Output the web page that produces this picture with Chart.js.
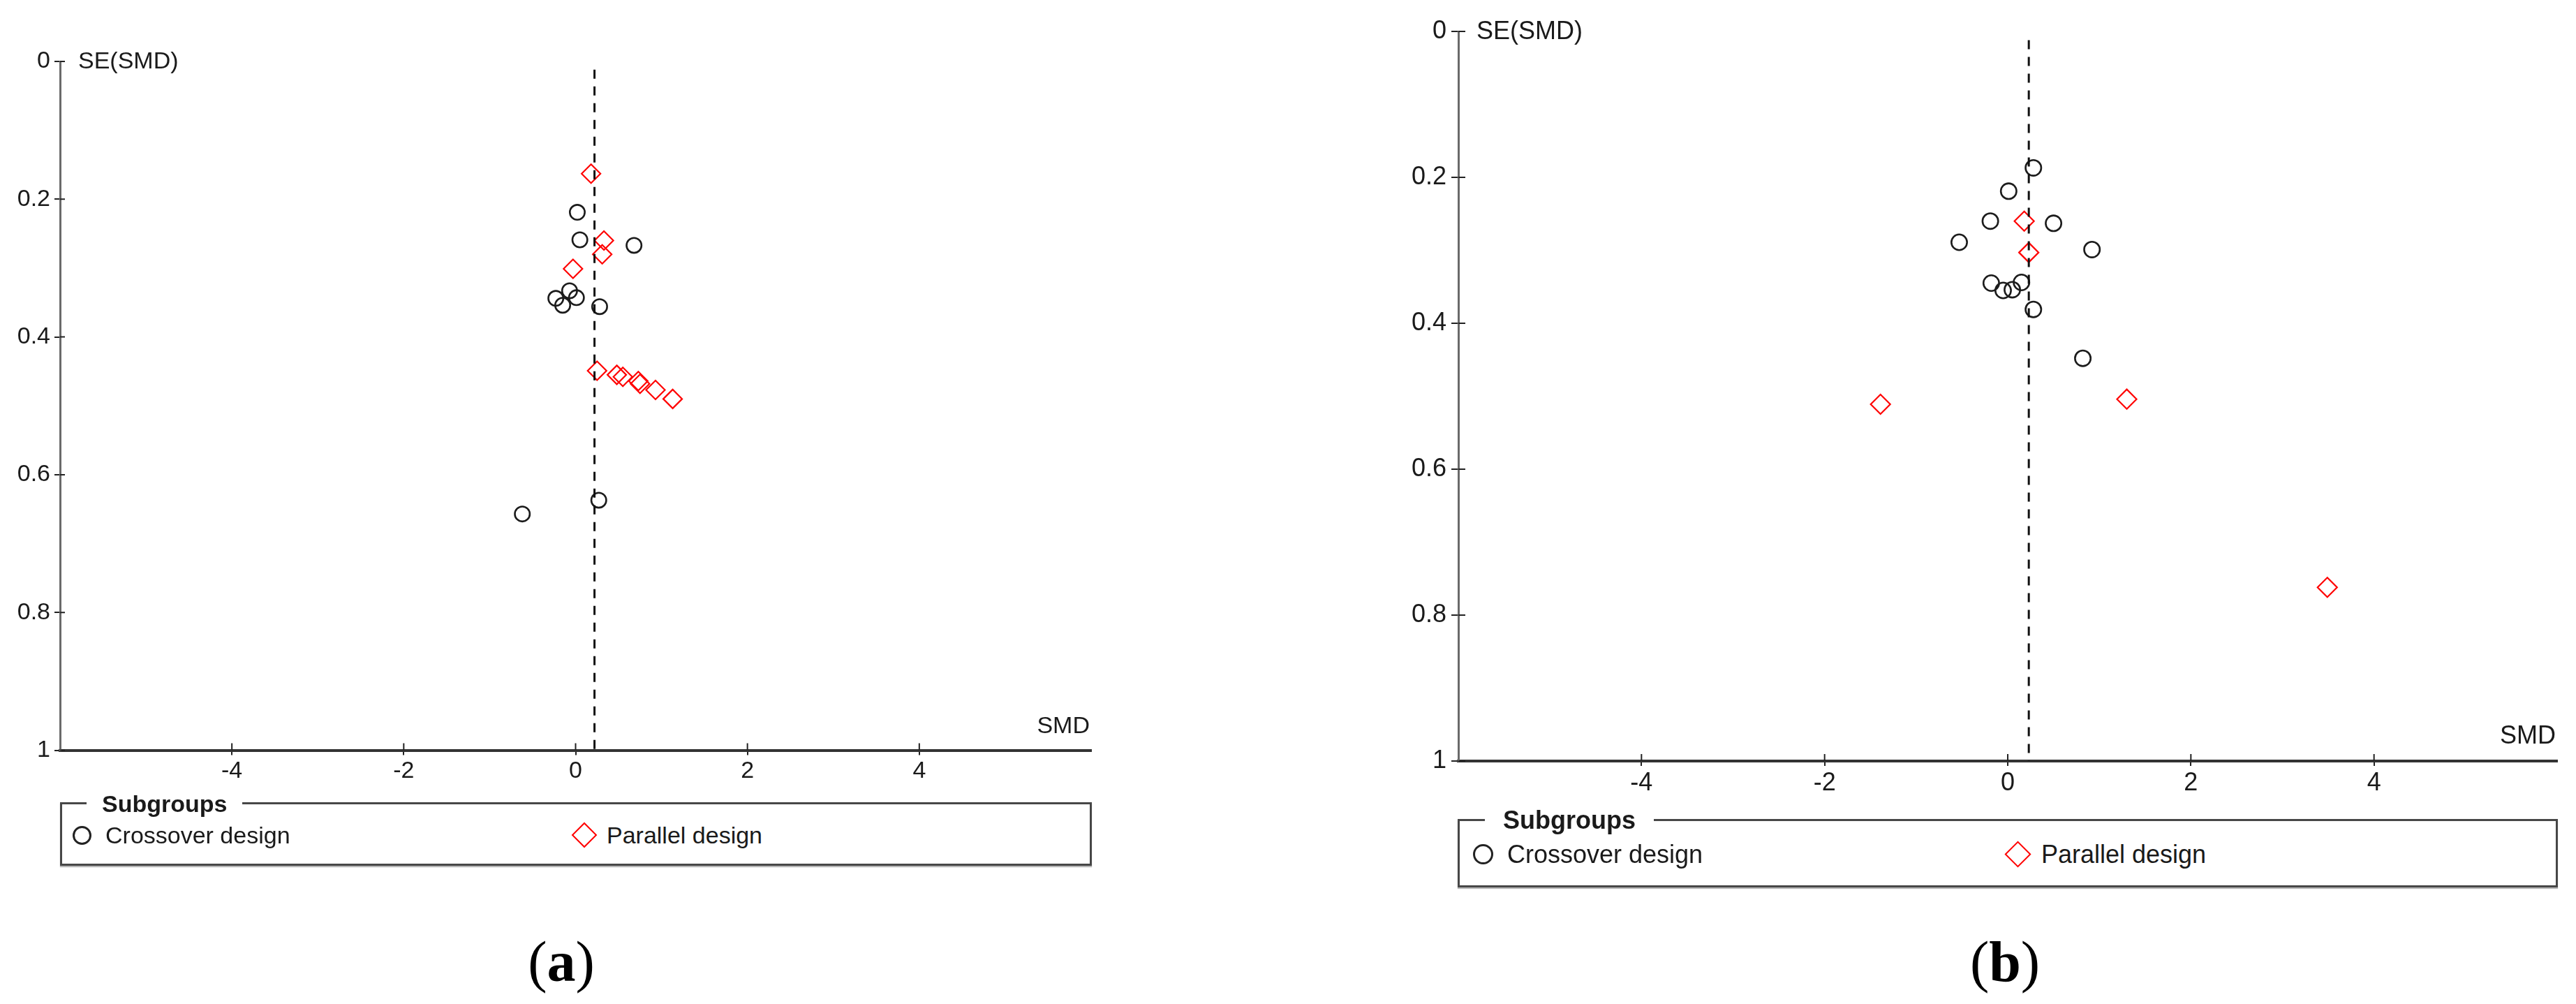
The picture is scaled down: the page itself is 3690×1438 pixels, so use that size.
<!DOCTYPE html>
<html>
<head>
<meta charset="utf-8">
<script src="https://cdn.jsdelivr.net/npm/chart.js@4.4.1/dist/chart.umd.min.js"></script>
<style>
html,body{margin:0;padding:0;background:#fff;}
body{width:3690px;height:1438px;position:relative;overflow:hidden;font-family:'Liberation Sans',Arial,sans-serif;color:#1a1a1a;}
canvas{position:absolute;}
#cA{left:0;top:0;}
#cB{left:1950px;top:0;}
.box{position:absolute;box-sizing:border-box;border:3px solid #474747;box-shadow:0 2px 1px #b5b5b5;}
.ttl{position:absolute;background:#fff;font-weight:bold;line-height:1;white-space:nowrap;transform:translateY(-50%);}
.item{position:absolute;line-height:1;white-space:nowrap;transform:translateY(-50%);}
.circ{position:absolute;box-sizing:border-box;border-radius:50%;border:3px solid #222;}
.diam{position:absolute;box-sizing:border-box;border:2px solid #f00;transform:rotate(45deg);}
.cap{position:absolute;font-family:'Liberation Serif','Times New Roman',serif;line-height:1;white-space:nowrap;transform:translate(-50%,-50%);color:#000;}
</style>
</head>
<body>
<canvas id="cA" width="1700" height="1140"></canvas>
<canvas id="cB" width="1740" height="1160"></canvas>

<div class="box" style="left:86px;top:1149px;width:1478px;height:91px;"></div>
<div class="ttl" style="left:124px;top:1151px;font-size:34px;padding:0 22px;">Subgroups</div>
<div class="circ" style="left:103.5px;top:1182.5px;width:27px;height:27px;"></div>
<div class="item" style="left:151px;top:1196px;font-size:34px;">Crossover design</div>
<div class="diam" style="left:824px;top:1183px;width:26px;height:26px;"></div>
<div class="item" style="left:869px;top:1196px;font-size:34px;">Parallel design</div>

<div class="box" style="left:2088px;top:1173px;width:1576px;height:98px;"></div>
<div class="ttl" style="left:2127px;top:1175px;font-size:36px;padding:0 26px;">Subgroups</div>
<div class="circ" style="left:2109.5px;top:1209px;width:29px;height:29px;"></div>
<div class="item" style="left:2159px;top:1223.5px;font-size:36px;">Crossover design</div>
<div class="diam" style="left:2877px;top:1210px;width:27px;height:27px;"></div>
<div class="item" style="left:2924px;top:1223.5px;font-size:36px;">Parallel design</div>

<div class="cap" style="left:804px;top:1378px;font-size:82px;">(<b>a</b>)</div>
<div class="cap" style="left:2872px;top:1378px;font-size:82px;">(<b>b</b>)</div>

<script>
// ---- shared axis ticks ----
const smdTicks = [-4, -2, 0, 2, 4];
const seTicks = [0, 0.2, 0.4, 0.6, 0.8, 1];

// ---- panel (a) ----
const aCrossSMD = [0.02, 0.05, 0.68, -0.07, -0.23, 0.01, -0.15, 0.28, 0.27, -0.62];
const aCrossSE  = [0.219, 0.259, 0.267, 0.333, 0.344, 0.343, 0.354, 0.356, 0.637, 0.657];
const aParSMD   = [0.18, 0.33, 0.31, -0.03, 0.25, 0.48, 0.55, 0.73, 0.75, 0.93, 1.13];
const aParSE    = [0.163, 0.260, 0.280, 0.301, 0.449, 0.455, 0.458, 0.464, 0.468, 0.477, 0.490];
const aPooled   = 0.22;

// ---- panel (b) ----
const bCrossSMD = [0.28, 0.01, -0.19, 0.50, -0.53, 0.92, -0.18, -0.05, 0.05, 0.15, 0.28, 0.82];
const bCrossSE  = [0.187, 0.219, 0.260, 0.263, 0.289, 0.299, 0.345, 0.355, 0.354, 0.344, 0.381, 0.448];
const bParSMD   = [0.18, 0.23, -1.39, 1.30, 3.49];
const bParSE    = [0.260, 0.303, 0.511, 0.504, 0.762];
const bPooled   = 0.23;

const seTop = 0.012;

function pts(xs, ys) { return xs.map((v, i) => ({ x: v, y: ys[i] })); }

function makeChart(id, o) {
  const annot = {
    id: 'annot_' + id,
    afterDraw(chart) {
      const { ctx, chartArea, scales } = chart;
      const x = scales.x, y = scales.y;
      ctx.save();
      ctx.strokeStyle = '#222';
      ctx.lineWidth = 2;
      ctx.beginPath();
      seTicks.forEach(v => {
        const py = y.getPixelForValue(v);
        ctx.moveTo(chartArea.left, py);
        ctx.lineTo(chartArea.left + o.yIn, py);
      });
      smdTicks.forEach(v => {
        const px = x.getPixelForValue(v);
        ctx.moveTo(px, chartArea.bottom);
        ctx.lineTo(px, chartArea.bottom - o.xIn);
      });
      ctx.stroke();
      ctx.fillStyle = '#1a1a1a';
      ctx.font = o.fs + "px 'Liberation Sans', Arial, sans-serif";
      ctx.textBaseline = 'middle';
      ctx.textAlign = 'left';
      ctx.fillText('SE(SMD)', chartArea.left + 26, y.getPixelForValue(0) + 1);
      ctx.textAlign = 'right';
      ctx.fillText('SMD', chartArea.right - 2, chartArea.bottom - o.smdUp);
      ctx.restore();
    }
  };
  const tickFont = { family: "'Liberation Sans', Arial, sans-serif", size: o.fs };
  return new Chart(document.getElementById(id), {
    type: 'scatter',
    data: {
      datasets: [
        {
          label: 'Pooled SMD', type: 'line',
          data: [{ x: o.pooled, y: seTop }, { x: o.pooled, y: 1 }],
          borderColor: '#111', borderWidth: 3, borderDash: [13, 11],
          pointRadius: 0, showLine: true, fill: false
        },
        {
          label: 'Crossover design', data: pts(o.cx, o.cy),
          pointStyle: 'circle', pointRadius: o.cr, borderWidth: 2.6,
          borderColor: '#1c1c1c', backgroundColor: 'rgba(0,0,0,0)'
        },
        {
          label: 'Parallel design', data: pts(o.px, o.py),
          pointStyle: 'rectRot', pointRadius: o.dr, borderWidth: 2.2,
          borderColor: '#ff0000', backgroundColor: 'rgba(0,0,0,0)'
        }
      ]
    },
    options: {
      responsive: false, animation: false, events: [],
      layout: { padding: { top: o.padTop, right: o.padRight, left: 0, bottom: 0 } },
      plugins: { legend: { display: false }, tooltip: { enabled: false } },
      scales: {
        x: {
          type: 'linear', position: 'bottom', min: -6, max: 6,
          afterBuildTicks: s => { s.ticks = smdTicks.map(v => ({ value: v })); },
          afterFit: s => { s.height = o.xH; },
          grid: { drawOnChartArea: false, drawTicks: true, tickLength: o.xTick, color: '#222', lineWidth: 2 },
          border: { display: true, color: '#333', width: 4 },
          ticks: { font: tickFont, color: '#1a1a1a', padding: 3, maxRotation: 0, autoSkip: false,
                   callback: v => String(v) }
        },
        y: {
          type: 'linear', position: 'left', reverse: true, min: 0, max: 1,
          afterBuildTicks: s => { s.ticks = seTicks.map(v => ({ value: v })); },
          afterFit: s => { s.width = o.yW; },
          grid: { drawOnChartArea: false, drawTicks: true, tickLength: o.yTick, color: '#222', lineWidth: 2 },
          border: { display: true, color: '#6a6a6a', width: 3 },
          ticks: { font: tickFont, color: '#1a1a1a', padding: o.yPad, autoSkip: false,
                   callback: v => String(+(+v).toFixed(2)) }
        }
      }
    },
    plugins: [annot]
  });
}

makeChart('cA', {
  cx: aCrossSMD, cy: aCrossSE, px: aParSMD, py: aParSE, pooled: aPooled,
  padTop: 88, padRight: 137, yW: 86, xH: 65.5, fs: 34,
  xTick: 7, yTick: 8, yPad: 6, yIn: 7, xIn: 10, smdUp: 34, cr: 10.7, dr: 13.5
});
makeChart('cB', {
  cx: bCrossSMD, cy: bCrossSE, px: bParSMD, py: bParSE, pooled: bPooled,
  padTop: 45, padRight: 27, yW: 139, xH: 70, fs: 36,
  xTick: 7, yTick: 10, yPad: 7, yIn: 10, xIn: 10, smdUp: 35, cr: 11.2, dr: 14
});
</script>
</body>
</html>
